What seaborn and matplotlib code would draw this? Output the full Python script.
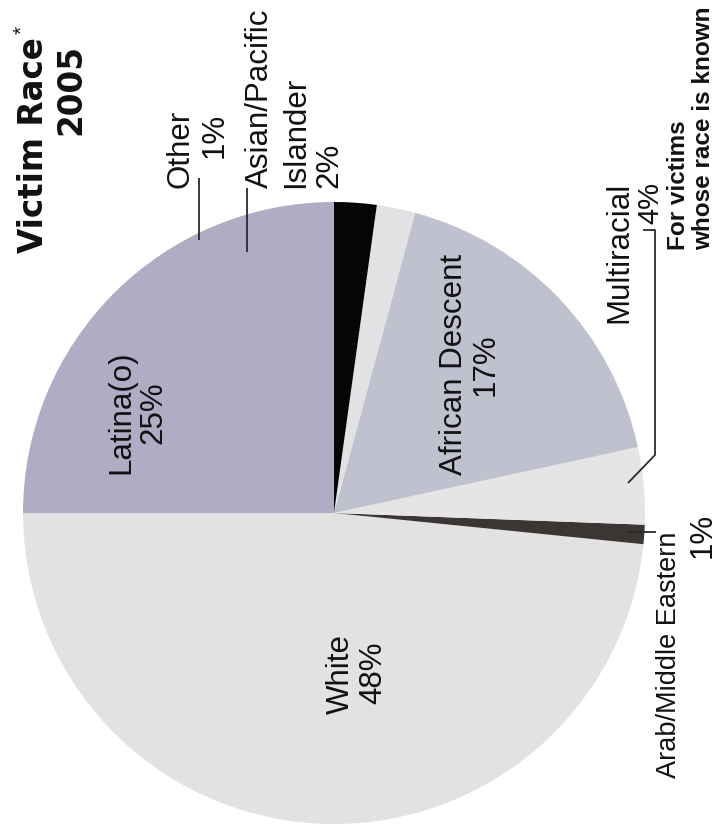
import matplotlib
matplotlib.use("Agg")
import matplotlib.pyplot as plt
import seaborn as sns

# slices, counterclockwise from the left (9 o'clock)
races = ["White", "Arab/Middle Eastern", "Multiracial", "African Descent",
         "Asian/Pacific Islander", "Other", "Latina(o)"]
shares = [48.4, 1.0, 4.0, 17.4, 2.0, 2.2, 25.0]
pct_labels = ["48%", "1%", "4%", "17%", "2%", "1%", "25%"]
slice_colors = ["#e3e1e1", "#3a3634", "#e6e4e4", "#c0c1cf",
                "#e2e2e5", "#050505", "#afacc4"]

W, H = 717, 833

sns.set_theme(style="white")
plt.rcParams["font.family"] = ["Liberation Sans", "DejaVu Sans"]

fig = plt.figure(figsize=(W / 100, H / 100), dpi=100)
ax = fig.add_axes([0, 0, 1, 1])

ax.pie(shares, colors=slice_colors, startangle=180, counterclock=True,
       center=(334, H - 513), radius=311,
       wedgeprops=dict(linewidth=0))
ax.set_xlim(0, W)
ax.set_ylim(0, H)
ax.set_aspect("equal")
ax.axis("off")


def label(x, y, s, ha="center", size=22.5, weight="normal", family=None):
    # x = baseline position, y = anchor along the (rotated) text, image coords
    kw = dict(rotation=90, rotation_mode="anchor", ha=ha, va="baseline",
              fontsize=size, fontweight=weight, color="#111111")
    if family:
        kw["family"] = family
    ax.text(x, H - y, s, **kw)


def leader(xs, ys):
    ax.plot(xs, [H - v for v in ys], color="#2a2a2a", lw=1.3,
            solid_capstyle="butt")


# title
label(43, 37, "Victim Race", ha="right", size=23.5, weight="bold",
      family="DejaVu Sans")
label(80, 89, "2005", ha="center", size=23.5, weight="bold",
      family="DejaVu Sans")
ax.text(22, H - 30, "*", rotation=90, ha="center", va="center",
        fontsize=15, color="#111111")

# inside labels
label(129, 412, races[6])
label(161, 413, pct_labels[6])
label(349, 674, races[0])
label(381, 673, pct_labels[0])
label(462, 364, races[3])
label(494, 365, pct_labels[3])

# outside labels
label(188, 110, races[5], ha="right")
label(223, 113, pct_labels[5], ha="right")
leader([199, 199], [178, 240])

label(268, 188, "Asian/Pacific", ha="left")
label(304, 188, "Islander", ha="left")
label(337, 188, pct_labels[4], ha="left")
leader([247, 247], [188, 252])

label(627, 182, races[2], ha="right")
label(658, 182, pct_labels[2], ha="right", size=21)
leader([643, 655, 655, 628], [230, 230, 455, 483])

label(676, 532, races[1], ha="right", size=19.5)
label(711, 535, pct_labels[1], ha="center")
leader([628, 656], [532, 532])

label(685, 250, "For victims", ha="left", size=17.5, weight="bold")
label(710, 250, "whose race is known", ha="left", size=17.5, weight="bold")

fig.savefig("out.png", dpi=100)
